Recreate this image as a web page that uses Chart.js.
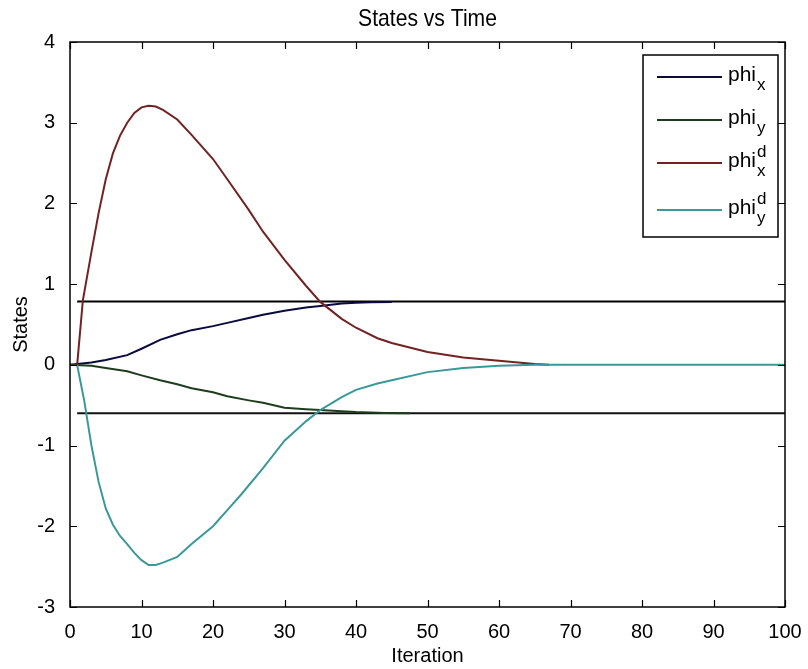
<!DOCTYPE html>
<html>
<head>
<meta charset="utf-8">
<title>States vs Time</title>
<script src="https://cdn.jsdelivr.net/npm/chart.js@4.4.0/dist/chart.umd.min.js"></script>
<style>
  html, body { margin: 0; padding: 0; background: #fff; }
  #wrap { width: 808px; height: 669px; }
</style>
</head>
<body>
<div id="wrap"><canvas id="chart"></canvas></div>
<script>
// --- DATA ---
const phiXIter = [0, 3, 5, 8, 10, 12.6, 15, 17, 20, 22, 25, 27, 30, 33, 35, 38, 40, 42, 45];
const phiXVals = [0, 0.03, 0.06, 0.12, 0.2, 0.31, 0.38, 0.43, 0.48, 0.52, 0.58, 0.62, 0.67, 0.71, 0.73, 0.76, 0.77, 0.775, 0.78];

const phiYIter = [0, 3, 5, 8, 10, 12.6, 15, 17, 20, 22, 25, 27, 30, 33, 35, 38, 40, 44, 47.5];
const phiYVals = [0, -0.01, -0.04, -0.08, -0.13, -0.19, -0.24, -0.29, -0.34, -0.39, -0.44, -0.47, -0.53, -0.55, -0.56, -0.575, -0.585, -0.595, -0.6];

const phiXdIter = [1, 1.8, 3, 4, 5, 6, 7, 8, 9, 10, 11, 12, 13, 15, 17, 20, 22, 25, 27, 30, 33, 35, 38, 40, 43, 45, 50, 55, 60, 65, 67];
const phiXdVals = [0, 0.8, 1.4, 1.88, 2.3, 2.62, 2.84, 3.0, 3.12, 3.19, 3.21, 3.2, 3.16, 3.04, 2.85, 2.55, 2.3, 1.92, 1.65, 1.3, 0.98, 0.78, 0.57, 0.46, 0.33, 0.27, 0.16, 0.09, 0.05, 0.01, 0];

const phiYdIter = [1, 2, 3, 4, 5, 6, 7, 8, 9, 10, 11, 12, 13, 15, 17, 20, 22, 24, 27, 30, 33, 35, 38, 40, 43, 45, 50, 55, 60, 65, 100];
const phiYdVals = [0, -0.45, -1.0, -1.45, -1.78, -1.98, -2.12, -2.22, -2.33, -2.42, -2.48, -2.48, -2.45, -2.38, -2.22, -2.0, -1.8, -1.6, -1.28, -0.94, -0.7, -0.56, -0.4, -0.31, -0.23, -0.19, -0.09, -0.04, -0.01, 0, 0];

// reference levels (horizontal lines)
const refIter = [1, 100];
const refXVals = [0.785, 0.785];
const refYVals = [-0.6, -0.6];

const xTicks = [0, 10, 20, 30, 40, 50, 60, 70, 80, 90, 100];
const yTicks = [-3, -2, -1, 0, 1, 2, 3, 4];

const legendNames = ['phi', 'phi', 'phi', 'phi'];
const legendSub = ['x', 'y', 'x', 'y'];
const legendSup = ['', '', 'd', 'd'];

const FONT = '"Liberation Sans Narrow", "Liberation Sans", Arial, sans-serif';

function pts(xs, ys) {
  return xs.map((x, i) => ({ x: x, y: ys[i] }));
}

function line(label, xs, ys, color, order) {
  return {
    label: label,
    data: pts(xs, ys),
    borderColor: color,
    backgroundColor: color,
    borderWidth: 2,
    pointRadius: 0,
    tension: 0,
    fill: false,
    order: order
  };
}

// --- PLUGIN: frame, inward ticks, title, legend ---
const matlabAxes = {
  id: 'matlabAxes',
  afterDraw(chart) {
    const ctx = chart.ctx;
    const a = chart.chartArea;
    const xs = chart.scales.x, ys = chart.scales.y;
    ctx.save();
    ctx.strokeStyle = '#000';
    ctx.lineWidth = 1.5;
    ctx.strokeRect(a.left, a.top, a.right - a.left, a.bottom - a.top);
    ctx.lineWidth = 1.2;
    ctx.beginPath();
    xTicks.forEach(v => {
      const px = Math.round(xs.getPixelForValue(v)) + 0.5;
      ctx.moveTo(px, a.bottom); ctx.lineTo(px, a.bottom - 7);
      ctx.moveTo(px, a.top); ctx.lineTo(px, a.top + 7);
    });
    yTicks.forEach(v => {
      const py = Math.round(ys.getPixelForValue(v)) + 0.5;
      ctx.moveTo(a.left, py); ctx.lineTo(a.left + 7, py);
      ctx.moveTo(a.right, py); ctx.lineTo(a.right - 7, py);
    });
    ctx.stroke();

    // title (slightly condensed like the original)
    ctx.fillStyle = '#000';
    ctx.font = '24px ' + FONT;
    ctx.textAlign = 'center';
    ctx.textBaseline = 'middle';
    ctx.save();
    ctx.translate((a.left + a.right) / 2, 19);
    ctx.scale(0.88, 1);
    ctx.fillText('States vs Time', 0, 0);
    ctx.restore();

    // legend box
    const bx = 643, by = 55, bw = 135, bh = 182;
    ctx.fillStyle = '#fff';
    ctx.fillRect(bx, by, bw, bh);
    ctx.lineWidth = 1.5;
    ctx.strokeStyle = '#000';
    ctx.strokeRect(bx, by, bw, bh);
    const rows = [77, 120, 163, 210];
    const order = [2, 3, 4, 5];
    rows.forEach((ry, i) => {
      const ds = chart.data.datasets[order[i]];
      ctx.strokeStyle = ds.borderColor;
      ctx.lineWidth = 2;
      ctx.beginPath();
      ctx.moveTo(657, ry); ctx.lineTo(722, ry);
      ctx.stroke();
      ctx.fillStyle = '#000';
      ctx.textAlign = 'left';
      ctx.textBaseline = 'middle';
      ctx.font = '21px ' + FONT;
      ctx.fillText(legendNames[i], 728, ry - 2);
      const w = ctx.measureText(legendNames[i]).width;
      ctx.font = '17px ' + FONT;
      ctx.fillText(legendSub[i], 729 + w, ry + 8);
      if (legendSup[i]) ctx.fillText(legendSup[i], 729 + w, ry - 11);
    });
    ctx.restore();
  }
};

const datasets = [
  line('ref x', refIter, refXVals, '#000000', 6),
  line('ref y', refIter, refYVals, '#111111', 6),
  line('phi_x', phiXIter, phiXVals, '#0a0a3c', 4),
  line('phi_y', phiYIter, phiYVals, '#1d3d1d', 3),
  line('phi_x^d', phiXdIter, phiXdVals, '#722222', 2),
  line('phi_y^d', phiYdIter, phiYdVals, '#3b9898', 1)
];

new Chart(document.getElementById('chart'), {
  type: 'line',
  data: { datasets: datasets },
  options: {
    responsive: true,
    maintainAspectRatio: false,
    animation: false,
    layout: { padding: { top: 42, right: 23, left: 0, bottom: 0 } },
    plugins: {
      legend: { display: false },
      title: { display: false },
      tooltip: { enabled: false }
    },
    scales: {
      x: {
        type: 'linear',
        min: 0, max: 100,
        afterFit(s) { s.height = 62; },
        afterBuildTicks(s) { s.ticks = xTicks.map(v => ({ value: v })); },
        grid: { display: false },
        border: { display: false },
        ticks: { color: '#000', padding: 5, maxRotation: 0, font: { family: FONT, size: 20 } },
        title: { display: true, text: 'Iteration', color: '#000', padding: { top: 0, bottom: 1 }, font: { family: FONT, size: 20 } }
      },
      y: {
        type: 'linear',
        min: -3, max: 4,
        afterFit(s) { s.width = 70; },
        afterBuildTicks(s) { s.ticks = yTicks.map(v => ({ value: v })); },
        grid: { display: false },
        border: { display: false },
        ticks: { color: '#000', padding: 7, font: { family: FONT, size: 20 } },
        title: { display: true, text: 'States', color: '#000', padding: { top: 9, bottom: 0 }, font: { family: FONT, size: 20 } }
      }
    }
  },
  plugins: [matlabAxes]
});
</script>
</body>
</html>
